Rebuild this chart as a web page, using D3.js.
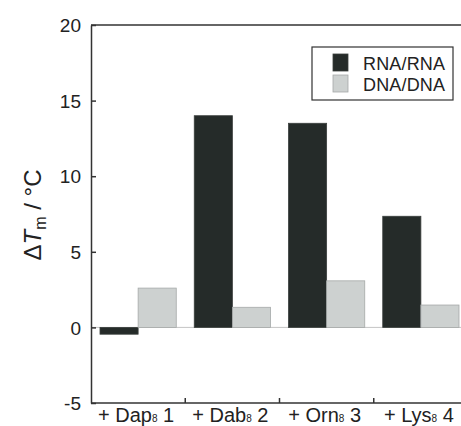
<!DOCTYPE html>
<html>
<head>
<meta charset="utf-8">
<script src="https://cdn.jsdelivr.net/npm/d3@7"></script>
<style>
  body { margin: 0; background: #fff; }
  svg { display: block; font-family: "Liberation Sans", Arial, sans-serif; }
  .axis path, .axis line { stroke: #333; stroke-width: 1.5; }
  .axis text { fill: #222; font-size: 19px; }
</style>
</head>
<body>
<script>
var compounds = ['Dap', 'Dab', 'Orn', 'Lys'];
var numbers   = ['1', '2', '3', '4'];
var series    = ['RNA/RNA', 'DNA/DNA'];
var rnaValues = [-0.45, 14.0, 13.5, 7.35];
var dnaValues = [2.6, 1.33, 3.08, 1.48];
var yTicks    = [-5, 0, 5, 10, 15, 20];

var colors = { 'RNA/RNA': '#252b29', 'DNA/DNA': '#cdd1d0' };
var strokes = { 'RNA/RNA': '#3a3f3d', 'DNA/DNA': '#a5a9a8' };

var svgWidth = 461, svgHeight = 426,
    margin = { top: 25, right: -7, bottom: 23, left: 91 },
    chartWidth  = svgWidth  - margin.left - margin.right,
    chartHeight = svgHeight - margin.top  - margin.bottom;

var data = compounds.map(function (c, i) {
  return { cat: c, 'RNA/RNA': rnaValues[i], 'DNA/DNA': dnaValues[i] };
});

var x = d3.scaleBand().domain(compounds).range([0, chartWidth]).padding(0);
var xs = d3.scaleBand().domain(series).range([9, x.bandwidth() - 9]).padding(0);
var y = d3.scaleLinear().domain([-5, 20]).range([chartHeight, 0]);

var svg = d3.select('body').append('svg')
  .attr('width', svgWidth)
  .attr('height', svgHeight)
  .append('g')
  .attr('transform', 'translate(' + margin.left + ',' + margin.top + ')');

// zero line
svg.append('line')
  .attr('x1', 0).attr('x2', chartWidth)
  .attr('y1', y(0)).attr('y2', y(0))
  .attr('stroke', '#c4c4c4').attr('stroke-width', 1);

// bars
var groups = svg.selectAll('.grp').data(data).enter().append('g')
  .attr('transform', function (d) { return 'translate(' + x(d.cat) + ',0)'; });

groups.selectAll('rect')
  .data(function (d) { return series.map(function (s) { return { s: s, v: d[s] }; }); })
  .enter().append('rect')
  .attr('x', function (d) { return xs(d.s); })
  .attr('width', xs.bandwidth())
  .attr('y', function (d) { return y(Math.max(0, d.v)); })
  .attr('height', function (d) { return Math.abs(y(d.v) - y(0)); })
  .attr('fill', function (d) { return colors[d.s]; })
  .attr('stroke', function (d) { return strokes[d.s]; })
  .attr('stroke-width', 0.8);

// top frame line
svg.append('line')
  .attr('x1', 0).attr('x2', chartWidth)
  .attr('y1', 0).attr('y2', 0)
  .attr('stroke', '#333').attr('stroke-width', 1.5);

// y axis
var yAxis = d3.axisLeft(y).tickValues(yTicks).tickSizeInner(-5).tickSizeOuter(0).tickPadding(10)
  .tickFormat(function (d) { return String(d); });
var gy = svg.append('g').attr('class', 'axis').call(yAxis);
gy.selectAll('text').attr('dy', '0.35em');

// x axis line + ticks at category boundaries
var gx = svg.append('g').attr('class', 'axis')
  .attr('transform', 'translate(0,' + chartHeight + ')');
gx.append('line').attr('x1', 0).attr('x2', chartWidth).attr('y1', 0).attr('y2', 0);
gx.selectAll('.tk').data(compounds.slice(1)).enter().append('line')
  .attr('x1', function (d) { return x(d); }).attr('x2', function (d) { return x(d); })
  .attr('y1', 0).attr('y2', -5);

var lbl = gx.selectAll('.lbl').data(compounds).enter().append('text')
  .attr('x', function (d) { return x(d) + x.bandwidth() / 2 - 2; })
  .attr('y', 19)
  .attr('text-anchor', 'middle')
  .style('font-size', '20px');
lbl.append('tspan').text(function (d) { return '+ ' + d; });
lbl.append('tspan').style('font-size', '10px').text('8');
lbl.append('tspan').text(function (d, i) { return ' ' + numbers[i]; });

// y label
var yl = svg.append('text')
  .attr('transform', 'translate(' + (-50) + ',' + 190 + ') rotate(-90)')
  .attr('text-anchor', 'middle')
  .attr('fill', '#222')
  .style('font-size', '24px');
yl.append('tspan').text('\u0394');
yl.append('tspan').style('font-style', 'italic').text('T');
yl.append('tspan').attr('dy', 5).style('font-size', '16px').text('m');
yl.append('tspan').attr('dy', -5).text(' / \u00B0C');

// legend
var leg = svg.append('g').attr('transform', 'translate(' + (312 - margin.left) + ',' + (47 - margin.top) + ')');
leg.append('rect').attr('width', 141).attr('height', 53)
  .attr('fill', '#fff').attr('stroke', '#333').attr('stroke-width', 1.2);
series.forEach(function (s, i) {
  leg.append('rect')
    .attr('x', 21).attr('y', 7 + i * 21)
    .attr('width', 15).attr('height', 17)
    .attr('fill', colors[s]).attr('stroke', strokes[s]).attr('stroke-width', 0.8);
  leg.append('text')
    .attr('x', 51).attr('y', 23 + i * 21)
    .attr('fill', '#222')
    .style('font-size', '18px')
    .attr('textLength', 82)
    .text(s);
});
</script>
</body>
</html>
